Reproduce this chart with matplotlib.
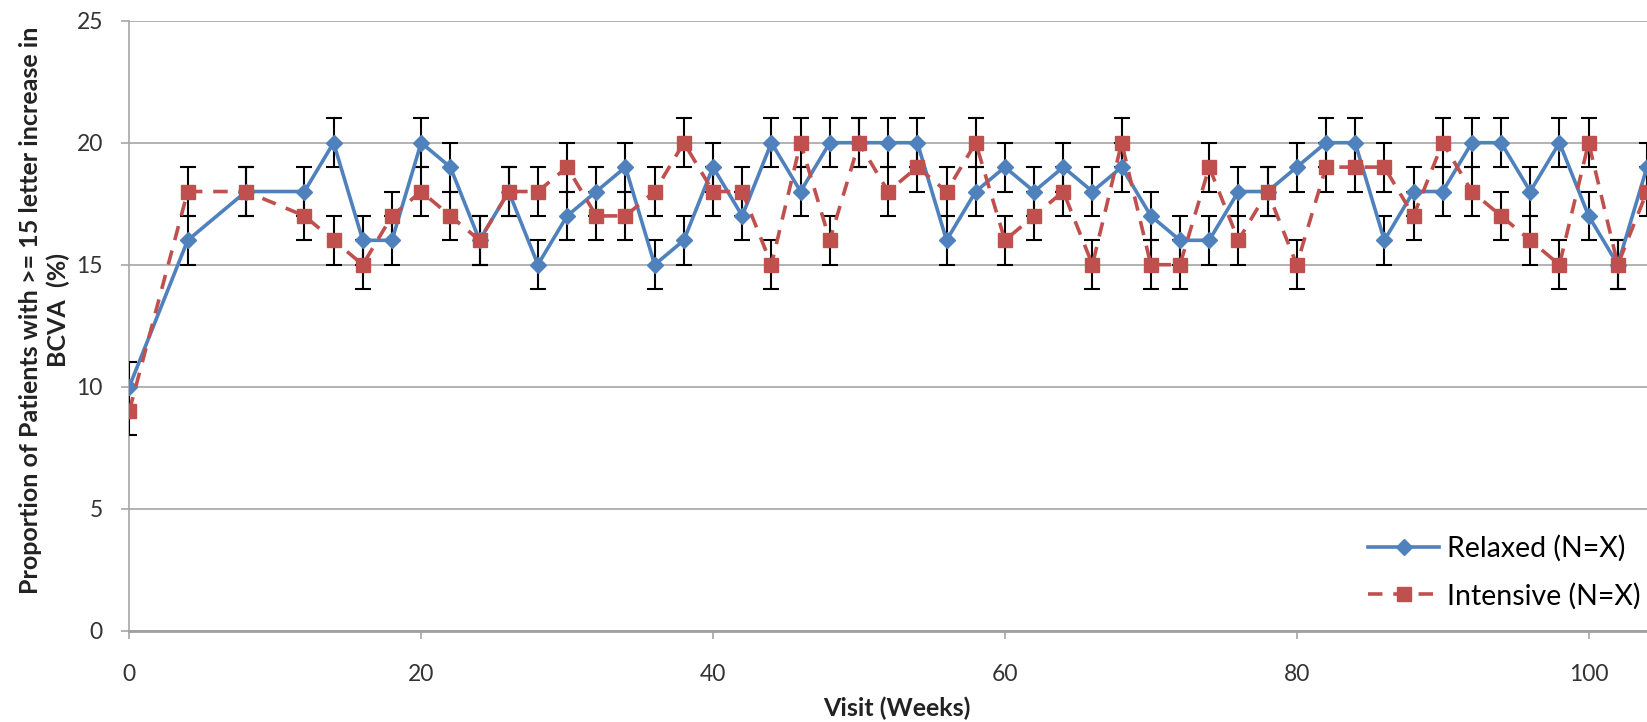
import matplotlib
matplotlib.use("Agg")
import matplotlib.pyplot as plt
from matplotlib.lines import Line2D

plt.rcParams['font.family'] = ['Lato', 'DejaVu Sans']

weeks = [0, 4, 8, 12, 14, 16, 18, 20, 22, 24, 26, 28, 30, 32, 34, 36, 38, 40, 42, 44,
         46, 48, 50, 52, 54, 56, 58, 60, 62, 64, 66, 68, 70, 72, 74, 76, 78, 80, 82, 84,
         86, 88, 90, 92, 94, 96, 98, 100, 102, 104]
relaxed = [10, 16, 18, 18, 20, 16, 16, 20, 19, 16, 18, 15, 17, 18, 19, 15, 16, 19, 17, 20,
           18, 20, 20, 20, 20, 16, 18, 19, 18, 19, 18, 19, 17, 16, 16, 18, 18, 19, 20, 20,
           16, 18, 18, 20, 20, 18, 20, 17, 15, 19]
intensive = [9, 18, 18, 17, 16, 15, 17, 18, 17, 16, 18, 18, 19, 17, 17, 18, 20, 18, 18, 15,
             20, 16, 20, 18, 19, 18, 20, 16, 17, 18, 15, 20, 15, 15, 19, 16, 18, 15, 19, 19,
             19, 17, 20, 18, 17, 16, 15, 20, 15, 18]
relaxed_err = [1] * len(weeks)
intensive_err = [1] * len(weeks)
labels = ["Relaxed (N=X)", "Intensive (N=X)"]

blue = "#4F81BD"
red = "#C0504D"

fig = plt.figure(figsize=(16.47, 7.22), dpi=100)
ax = fig.add_axes([0.0785, 0.1265, 0.9215, 0.8448])

ax.errorbar(weeks, relaxed, yerr=relaxed_err, color=blue, lw=2.6, marker='D',
            markersize=8, markerfacecolor=blue, markeredgecolor=blue,
            ecolor='black', elinewidth=1.5, capsize=6, capthick=1.5, zorder=3)
ax.errorbar(weeks, intensive, yerr=intensive_err, color=red, lw=2.6, marker='s',
            markersize=10, markerfacecolor=red, markeredgecolor=red,
            linestyle=(0, (4, 3)), ecolor='black', elinewidth=1.5, capsize=6,
            capthick=1.5, zorder=3)

ax.set_xlim(0, 104)
ax.set_ylim(0, 25)
ax.set_yticks([0, 5, 10, 15, 20, 25])
ax.set_xticks([0, 20, 40, 60, 80, 100])

ax.grid(axis='y', color='#A6A6A6', lw=1.2)
ax.set_axisbelow(True)
for s in ['top', 'right']:
    ax.spines[s].set_visible(False)
ax.spines['left'].set_color('#A6A6A6')
ax.spines['left'].set_linewidth(1.2)
ax.spines['bottom'].set_color('#A0A0A0')
ax.spines['bottom'].set_linewidth(2.0)
ax.tick_params(axis='both', colors='#A6A6A6', labelcolor='#333333', labelsize=16.5,
               length=6, width=1.2, direction='out')
ax.tick_params(axis='x', pad=18)
ax.tick_params(axis='y', pad=13)

ax.set_xlabel("Visit (Weeks)", fontsize=18, fontweight='bold', color='#222222')
ax.xaxis.set_label_coords(0.506, -0.108)
ax.set_ylabel("Proportion of Patients with >= 15 letter increase in\nBCVA  (%)",
              fontsize=18, fontweight='bold', color='#222222', linespacing=1.25)
ax.yaxis.set_label_coords(-0.039, 0.525)

handles = [
    Line2D([], [], color=blue, lw=2.6, marker='D', markersize=8),
    Line2D([], [], color=red, lw=2.6, marker='s', markersize=10, linestyle=(0, (4, 3))),
]
ax.legend(handles, labels, loc='center right', bbox_to_anchor=(0.9954, 0.096),
          frameon=False, fontsize=20.5, handlelength=2.5, labelspacing=0.72,
          borderaxespad=0, borderpad=0, handletextpad=0.25)

fig.savefig("out.png", dpi=100)
